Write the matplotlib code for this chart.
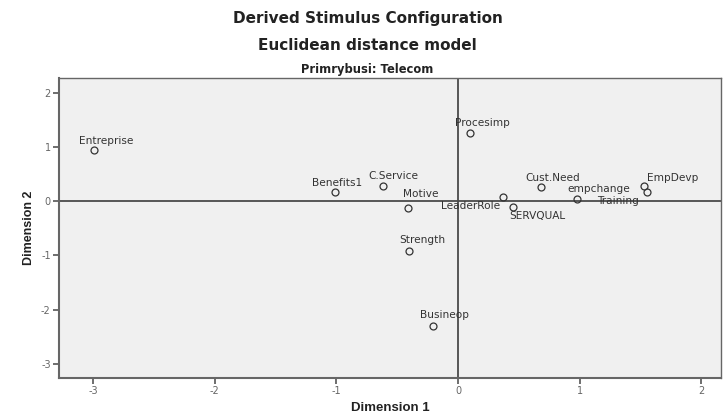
import matplotlib.pyplot as plt

plt.rcParams['font.family'] = ['DejaVu Sans']
plt.rcParams['axes.unicode_minus'] = False

# stimulus coordinates
names = ['Entreprise', 'Benefits1', 'C.Service', 'Motive', 'Procesimp', 'LeaderRole',
         'SERVQUAL', 'Cust.Need', 'empchange', 'EmpDevp', 'Training', 'Strength', 'Busineop']
dim1 = [-2.99, -1.01, -0.62, -0.41, 0.10, 0.37, 0.45, 0.68, 0.98, 1.53, 1.55, -0.40, -0.21]
dim2 = [0.95, 0.18, 0.28, -0.12, 1.27, 0.08, -0.11, 0.27, 0.05, 0.28, 0.17, -0.92, -2.30]
# label offsets in pixels (dx right, dy down), label anchored at its left edge
offs = [(-15, -9), (-23, -9), (-14, -10), (-5, -14), (-15, -10), (-62, 9),
        (-4, 9), (-15, -9), (-10, -10), (3, -8), (-50, 9), (-10, -11), (-13, -11)]

fig = plt.figure(figsize=(7.25, 4.16), dpi=100)
ax = fig.add_axes([0.0814, 0.092, 0.913, 0.7205])
ax.set_facecolor('#f0f0f0')

ax.axhline(0, color='#4a4a4a', lw=1.3, zorder=1)
ax.axvline(0, color='#4a4a4a', lw=1.3, zorder=1)
ax.plot(dim1, dim2, 'o', ms=5, mfc='none', mec='#333333', mew=0.9, zorder=3)

for n, x, y, (dx, dy) in zip(names, dim1, dim2, offs):
    ax.annotate(n, (x, y), xytext=(dx * 0.72, -dy * 0.72), textcoords='offset points',
                fontsize=7.6, color='#333333', ha='left', va='center')

ax.set_xlim(-3.28, 2.16)
ax.set_ylim(-3.26, 2.28)
ax.set_xticks([-3, -2, -1, 0, 1, 2])
ax.set_yticks([-3, -2, -1, 0, 1, 2])
ax.tick_params(length=4, width=1.2, color='#555555', labelsize=7, labelcolor='#666666', pad=2)
for s in ax.spines.values():
    s.set_color('#666666')
    s.set_linewidth(1.5)
ax.spines['top'].set_linewidth(1.0)
ax.spines['right'].set_linewidth(1.0)

ax.set_xlabel('Dimension 1', fontsize=9.5, fontweight='bold', color='#222222', labelpad=4,
              family='Liberation Sans')
ax.set_ylabel('Dimension 2', fontsize=9, fontweight='bold', color='#222222', labelpad=4,
              family='Liberation Sans')

fig.text(0.507, 1 - 19 / 416, 'Derived Stimulus Configuration', ha='center', va='center',
         fontsize=11, fontweight='bold', color='#222222')
fig.text(0.507, 1 - 45 / 416, 'Euclidean distance model', ha='center', va='center',
         fontsize=11, fontweight='bold', color='#222222')
fig.text(0.507, 1 - 69 / 416, 'Primrybusi: Telecom', ha='center', va='center',
         fontsize=8.3, fontweight='bold', color='#222222')

fig.savefig('out.png', dpi=100)
